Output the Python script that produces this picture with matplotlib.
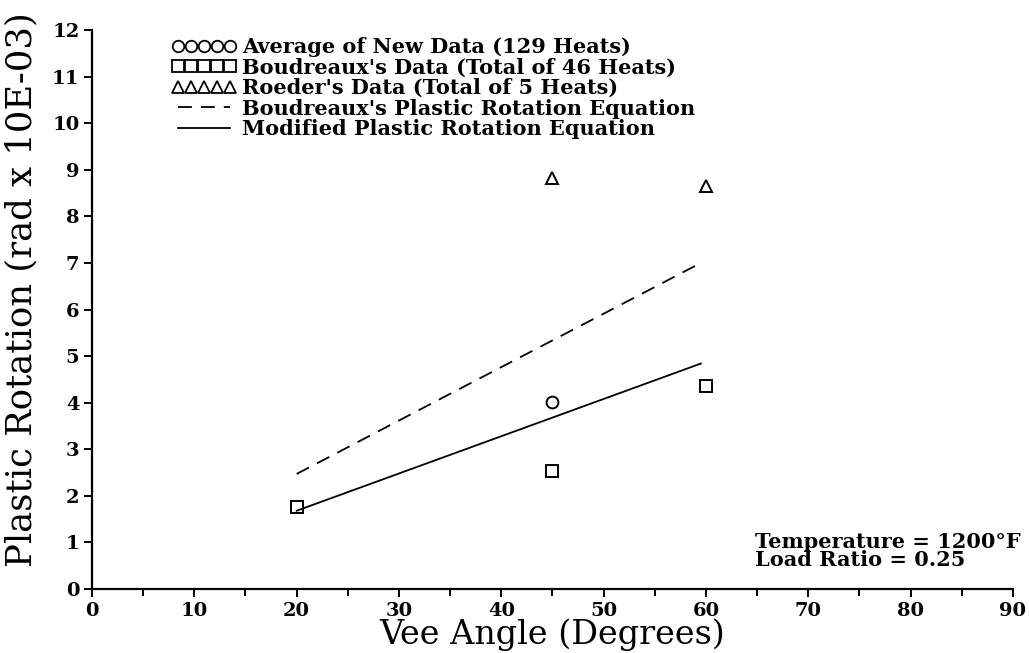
import matplotlib
matplotlib.use("Agg")
import matplotlib.pyplot as plt

# data
new_x = [45]
new_y = [4.02]
boud_x = [20, 45, 60]
boud_y = [1.76, 2.53, 4.36]
roeder_x = [45, 60]
roeder_y = [8.82, 8.66]
boud_eq_x = [20, 59.5]
boud_eq_y = [2.47, 7.0]
mod_eq_x = [20, 59.5]
mod_eq_y = [1.68, 4.84]

x_ticks = list(range(0, 91, 10))
y_ticks = list(range(0, 13))

plt.rcParams["lines.scale_dashes"] = False
txt_font = "DejaVu Serif"

fig = plt.figure(figsize=(10.29, 6.53), dpi=100)
ax = fig.add_axes([0.0894, 0.098, 0.895, 0.856])

ms = 8.5
mew = 1.4
ax.plot(new_x, new_y, ls="none", marker="o", ms=ms, mfc="none", mec="black", mew=mew,
        label="Average of New Data (129 Heats)")
ax.plot(boud_x, boud_y, ls="none", marker="s", ms=ms, mfc="none", mec="black", mew=mew,
        label="Boudreaux's Data (Total of 46 Heats)")
ax.plot(roeder_x, roeder_y, ls="none", marker="^", ms=ms, mfc="none", mec="black", mew=mew,
        label="Roeder's Data (Total of 5 Heats)")
ax.plot(boud_eq_x, boud_eq_y, color="black", lw=1.3, dashes=(10, 6.5),
        label="Boudreaux's Plastic Rotation Equation")
ax.plot(mod_eq_x, mod_eq_y, color="black", lw=1.3,
        label="Modified Plastic Rotation Equation")

ax.set_xlim(0, 90)
ax.set_ylim(0, 12)
ax.set_xticks(x_ticks)
ax.set_xticks(list(range(5, 90, 10)), minor=True)
ax.set_yticks(y_ticks)

for s in ["top", "right"]:
    ax.spines[s].set_visible(False)
for s in ["left", "bottom"]:
    ax.spines[s].set_linewidth(1.6)

ax.tick_params(axis="both", which="major", direction="out", length=6, width=1.4,
               labelsize=14, pad=3)
ax.tick_params(axis="x", which="minor", direction="out", length=5, width=1.4)
for lab in ax.get_xticklabels() + ax.get_yticklabels():
    lab.set_fontfamily(txt_font)
    lab.set_fontweight("bold")

ax.set_xlabel("Vee Angle (Degrees)", fontsize=24, family=txt_font)
ax.set_ylabel("Plastic Rotation (rad x 10E-03)", fontsize=25.5, family=txt_font)
ax.xaxis.set_label_coords(0.5, -0.052)
ax.yaxis.set_label_coords(-0.058, 0.535)

leg = ax.legend(loc="upper left", bbox_to_anchor=(0.072, 1.012), frameon=False,
                numpoints=5, handlelength=3.1, handletextpad=0.25, labelspacing=0.03,
                borderaxespad=0.25, prop={"family": txt_font, "weight": "bold", "size": 15})
for h in leg.legend_handles:
    h.set_markersize(8.3)
    h.set_markeredgewidth(1.3)

ax.text(0.72, 0.102, "Temperature = 1200\u00b0F\nLoad Ratio = 0.25", transform=ax.transAxes,
        ha="left", va="top", fontsize=15, family=txt_font, fontweight="bold",
        linespacing=0.9)

fig.savefig("out.png", dpi=100)
